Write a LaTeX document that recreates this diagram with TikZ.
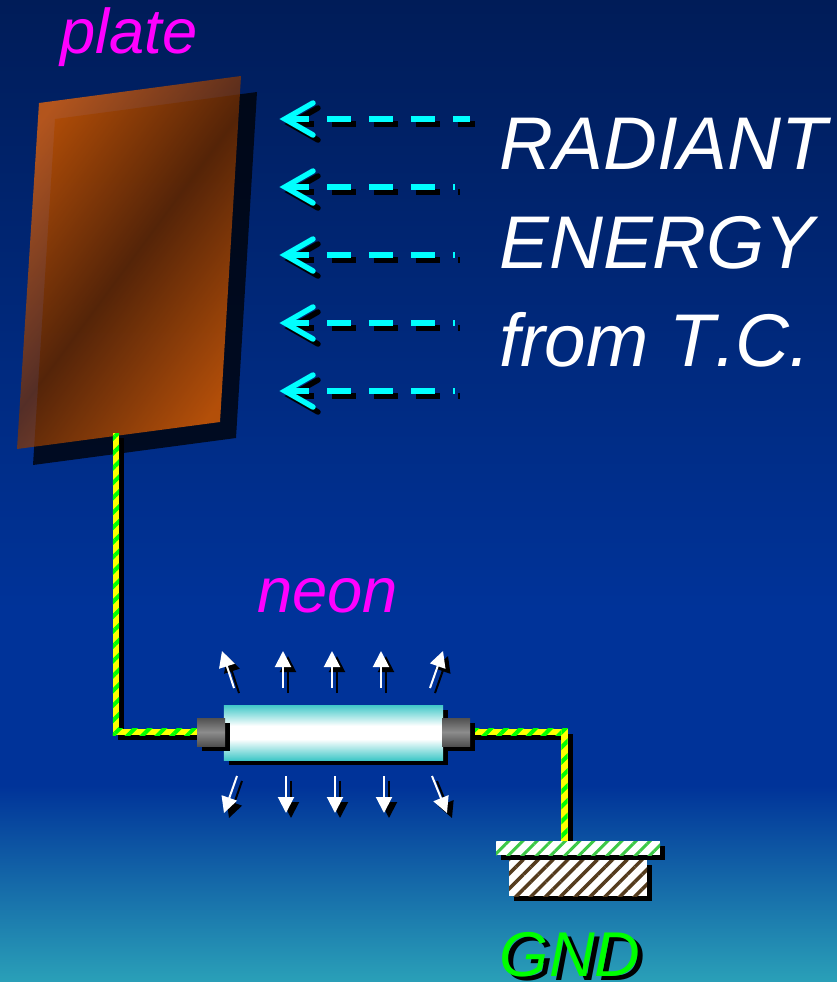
\documentclass[tikz,border=0pt]{standalone}
\usepackage{fontspec}
\setmainfont[Kerning=Off]{Liberation Sans}
\usepackage{tikz}
\usetikzlibrary{arrows.meta,calc,patterns.meta,shadows}
\definecolor{skytop}{RGB}{0,28,88}
\definecolor{skymid}{RGB}{0,51,153}
\definecolor{skylow}{RGB}{42,160,184}
\definecolor{tubeteal}{RGB}{64,200,200}
\definecolor{capdark}{RGB}{80,80,80}
\definecolor{capmid}{RGB}{140,140,140}
\definecolor{plateglow}{RGB}{255,108,0}
\definecolor{platedark}{RGB}{121,48,0}
\definecolor{hatchgreen}{RGB}{60,200,70}
\definecolor{hatchbrown}{RGB}{85,60,30}
\definecolor{labelpink}{RGB}{255,0,255}
\definecolor{raycyan}{RGB}{0,255,255}
\definecolor{wireyellow}{RGB}{255,255,0}
\definecolor{wiregreen}{RGB}{0,255,0}
\pgfdeclareverticalshading{skyfade}{100bp}{color(0bp)=(skylow); color(25bp)=(skylow); color(35bp)=(skymid); color(44bp)=(skymid); color(75bp)=(skytop); color(100bp)=(skytop)}
\pgfdeclareverticalshading{tubefade}{100bp}{color(0bp)=(tubeteal); color(25bp)=(tubeteal); color(44bp)=(white); color(56bp)=(white); color(75bp)=(tubeteal); color(100bp)=(tubeteal)}
\pgfdeclareverticalshading{capfade}{100bp}{color(0bp)=(capdark); color(25bp)=(capdark); color(50bp)=(capmid); color(75bp)=(capdark); color(100bp)=(capdark)}
\pgfdeclarehorizontalshading{platefade}{100bp}{color(0bp)=(plateglow); color(23bp)=(plateglow); color(50bp)=(platedark); color(77bp)=(plateglow); color(100bp)=(plateglow)}
\tikzset{
  drop/.style={copy shadow={draw=none,fill=black,opacity=1,shadow xshift=1mm,shadow yshift=-1mm}},
  tubebody/.style={inner sep=0,minimum width=43.8mm,minimum height=11mm,shading=tubefade,drop},
  tubecap/.style={inner sep=0,minimum width=5.6mm,minimum height=5.6mm,shading=capfade,drop},
  wireline/.style={black,line width=1.3mm,line join=miter,transform canvas={xshift=1mm,yshift=-1mm}},
  wire/.style={preaction={fill=wireyellow},pattern={Lines[angle=45,distance=2.1mm,line width=0.8mm]},pattern color=wiregreen},
  groundbar/.style={inner sep=0,minimum width=32.8mm,minimum height=2.8mm,drop,preaction={fill=white},pattern={Lines[angle=45,distance=2mm,line width=0.6mm]},pattern color=hatchgreen},
  groundblock/.style={inner sep=0,minimum width=27.6mm,minimum height=7.2mm,drop,preaction={fill=white},pattern={Lines[angle=45,distance=2.1mm,line width=0.7mm]},pattern color=hatchbrown},
  glow/.style={-{Triangle[length=3.2mm,width=3.2mm]},line width=0.4mm},
  ray/.style={line width=1.1mm,dash pattern=on 4.8mm off 3.6mm},
  rayhead/.style={line width=1.1mm,line cap=round,line join=miter},
  bigtext/.style={anchor=base west,inner sep=0,font=\fontsize{42.5pt}{42.5pt}\selectfont\itshape,white},
  midtext/.style={anchor=base west,inner sep=0,font=\fontsize{36pt}{36pt}\selectfont\itshape},
}
\begin{document}
\begin{tikzpicture}[x=0.2mm,y=-0.2mm]
\useasboundingbox (0,0) rectangle (837,982);
\shade[shading=skyfade] (0,0) rectangle (837,982);
% plate
\fill[black,opacity=.75] (55,119) -- (257,92) -- (236,438) -- (33,465) -- cycle;
\path[shading=platefade,shading angle=-36.5,opacity=.7] (39,103) -- (241,76) -- (220,422) -- (17,449) -- cycle;
\coordinate (platefoot) at (116,433);
\node[midtext,labelpink] (platelabel) at (60,53) {plate};
% radiant energy rays
\foreach \y/\xend in {119/470,187/455,255/455,323/455,391/455}{
  \draw[ray,black] (290,\y+5) -- (\xend+5,\y+5);
  \draw[rayhead,black] (318,\y-11) -- (290,\y+5) -- (318,\y+21);
  \draw[ray,raycyan] (285,\y) -- (\xend,\y);
  \draw[rayhead,raycyan] (313,\y-16) -- (285,\y) -- (313,\y+16);
}
\node[bigtext] (radiant) at (499,169) {RADIANT};
\node[bigtext] (energy) at (499,268) {ENERGY};
\node[bigtext] (fromtc) at (499,366) {from T.C.};
% neon tube
\coordinate (bendl) at (116,732);
\coordinate (bendr) at (564.5,732);
\coordinate (groundtop) at (564.5,841);
\node[midtext,labelpink] (neonlabel) at (257,612) {neon};
\draw[wireline] (platefoot) -- (bendl) -- (200,732);
\draw[wireline] (470,732) -- (bendr) -- (groundtop);
\fill[wire] ($(platefoot)+(-3.2,0)$) rectangle ($(bendl)+(3.2,3.2)$);
\fill[wire] ($(bendl)+(-3.2,-3.2)$) rectangle (200,735.2);
\fill[wire] (468,728.8) rectangle ($(bendr)+(3.2,3.2)$);
\fill[wire] ($(bendr)+(-3.2,-3.2)$) rectangle ($(groundtop)+(3.2,0)$);
\node[tubebody] (tube) at (333.5,732.5) {};
\node[tubecap] (capl) at (211,732) {};
\node[tubecap] (capr) at (456,732) {};
\foreach \xa/\ya/\xb/\yb in {234/688/222/651,283/688/283/651,332/688/332/651,381/688/381/651,430/688/443/651,
  237/776/224/813,286/776/286/813,335/776/335/813,384/776/384/813,432/776/447/813}{
  \draw[glow,black,shift={(5,5)}] (\xa,\ya) -- (\xb,\yb);
  \draw[glow,white] (\xa,\ya) -- (\xb,\yb);
}
% ground
\node[groundblock] (block) at (578,878) {};
\node[groundbar] (bar) at (578,848) {};
\node[midtext,black] (gndshadow) at (504.5,980) {GND};
\node[midtext,wiregreen] (gnd) at (499.5,976) {GND};
\end{tikzpicture}
\end{document}
